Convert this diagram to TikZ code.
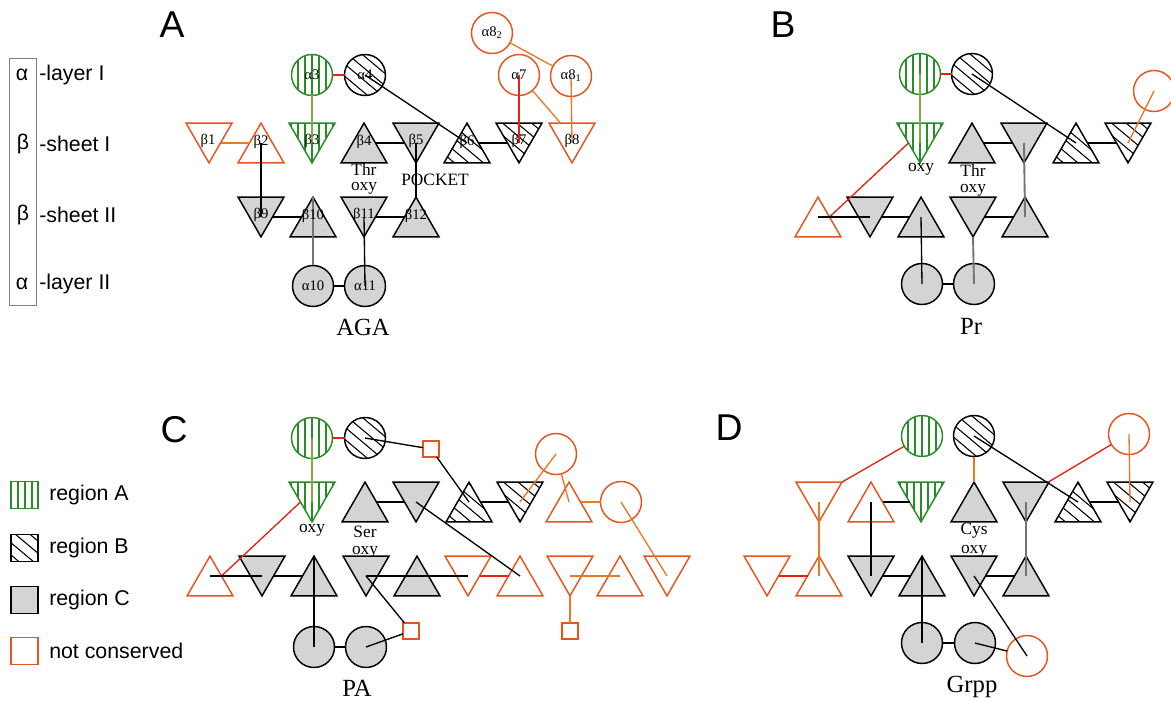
\documentclass[tikz,border=0pt]{standalone}
\usepackage{fontspec}
\setmainfont{Liberation Serif}
\newfontfamily\sansf{Liberation Sans}
\usetikzlibrary{shapes.geometric,calc}
\definecolor{grn}{RGB}{40,140,40}
\definecolor{grnl}{RGB}{125,175,60}
\definecolor{ncol}{RGB}{230,85,30}
\definecolor{redl}{RGB}{225,35,20}
\definecolor{orl}{RGB}{235,120,35}
\definecolor{grayc}{RGB}{212,212,212}
\tikzset{
 base/.style={inner sep=0pt,outer sep=0pt,line width=1.1pt},
 tri/.style={base,regular polygon,regular polygon sides=3,minimum size=39.8pt},
 cir/.style={base,circle,minimum size=30.75pt},
 sqr/.style={base,rectangle,minimum size=12pt},
 regA/.style={draw=grn,fill=white,path picture={\foreach \k in {-21,-15.75,...,21}{\draw[grn,line width=1.5pt] ([xshift=\k pt]path picture bounding box.north) -- ([xshift=\k pt]path picture bounding box.south);}}},
 regB/.style={draw=black,fill=white,path picture={\foreach \k in {-24.5,-17.5,...,24.5}{\draw[black,line width=0.8pt] ($(path picture bounding box.center)+(\k*0.643pt,\k*0.766pt)+(140:45pt)$) -- ++(-40:90pt);}}},
 regC/.style={draw=black,fill=grayc},
 NC/.style={draw=ncol,fill=white},
 lnB/.style={line width=1pt,black},
 lnR/.style={line width=1pt,redl},
 lnO/.style={line width=1pt,orl},
 lnG/.style={line width=1.2pt,grnl},
 lnGy/.style={line width=1.4pt,black!55},
 ilab/.style={font=\fontsize{11}{11}\selectfont,inner sep=0pt},
 slab/.style={font=\fontsize{13}{13}\selectfont,inner sep=0pt},
 tlab/.style={font=\fontsize{18.5}{18.5}\selectfont,inner sep=0pt},
 plab/.style={font={\sansf\fontsize{28}{28}\selectfont},inner sep=0pt},
 lg/.style={font={\sansf\fontsize{16}{16}\selectfont},inner sep=0pt},
}
\newcommand\triU[4]{\node[tri,#4] (#1) at (#2,#3+6.64) {};
 \coordinate (#1c) at (#2,#3); \coordinate (#1L) at (#2-11.5,#3); \coordinate (#1R) at (#2+11.5,#3);
 \coordinate (#1T) at (#2,#3-20); \coordinate (#1B) at (#2,#3+20);}
\newcommand\triD[4]{\node[tri,shape border rotate=180,#4] (#1) at (#2,#3-6.64) {};
 \coordinate (#1c) at (#2,#3); \coordinate (#1L) at (#2-11.5,#3); \coordinate (#1R) at (#2+11.5,#3);
 \coordinate (#1T) at (#2,#3-20); \coordinate (#1B) at (#2,#3+20);}
\begin{document}
\begin{tikzpicture}[x=0.75pt,y=-0.75pt]
\useasboundingbox (0,0) rectangle (1171,702);
\clip (0,0) rectangle (1171,702);
% ---------- legends ----------
\node[draw=black!50,line width=0.6pt,minimum width=20.25pt,minimum height=185.25pt,inner sep=0pt] (lbox) at (22.5,181.5) {};
\node[lg] (lg1) at (22,75) {α};
\node[lg] (lg2) at (23,144) {β};
\node[lg] (lg3) at (23,215) {β};
\node[lg] (lg4) at (22,284) {α};
\node[lg,anchor=west] (lt1) at (39,75) {-layer I};
\node[lg,anchor=west] (lt2) at (39,144) {-sheet I};
\node[lg,anchor=west] (lt3) at (39,215) {-sheet II};
\node[lg,anchor=west] (lt4) at (39,284) {-layer II};
\node[base,rectangle,minimum size=20.25pt,regA] (sA) at (24.5,495) {};
\node[base,rectangle,minimum size=20.25pt,regB,line width=0.8pt] (sB) at (24.5,548) {};
\node[base,rectangle,minimum size=20.25pt,regC,line width=0.8pt] (sC) at (24.5,600) {};
\node[base,rectangle,minimum size=20.25pt,NC,line width=0.8pt] (sD) at (24.5,651) {};
\node[lg,anchor=west] (tA) at (49,495) {region A};
\node[lg,anchor=west] (tB) at (49,548) {region B};
\node[lg,anchor=west] (tC) at (49,600) {region C};
\node[lg,anchor=west] (tD) at (49,651) {not conserved};
% ---------- panel A ----------
\node[plab] (PA) at (172,25) {A};
\node[cir,regA] (Aa3) at (312,75) {};
\node[cir,regB] (Aa4) at (365,75) {};
\node[cir,NC] (Aa82) at (492,33) {};
\node[cir,NC] (Aa7) at (519,75) {};
\node[cir,NC] (Aa81) at (571,76) {};
\node[cir,regC] (Aa10) at (313,286) {};
\node[cir,regC] (Aa11) at (365,286) {};
\triD{Ab1}{209}{143}{NC}
\triU{Ab2}{261}{143}{NC}
\triD{Ab3}{312}{143}{regA}
\triU{Ab4}{364}{143}{regC}
\triD{Ab5}{416}{143}{regC}
\triU{Ab6}{467}{143}{regB}
\triD{Ab7}{519}{143}{regB}
\triD{Ab8}{572}{143}{NC}
\triD{Ab9}{261}{217}{regC}
\triU{Ab10}{313}{217}{regC}
\triD{Ab11}{364}{217}{regC}
\triU{Ab12}{416}{217}{regC}
\draw[lnR] (Aa3) -- (Aa4);
\draw[lnG] (Aa3) -- (Ab3c);
\draw[lnB] (Aa4.center) -- (Ab6c);
\draw[lnO] (Aa82) -- (Aa81);
\draw[lnR] (Aa7.center) -- (Ab7c);
\draw[lnO] (Aa7) -- (Ab8);
\draw[lnO] (Aa81.center) -- (Ab8c);
\draw[lnO] (Ab1R) -- (Ab2L);
\draw[lnB] (Ab2c) -- (Ab9c);
\draw[lnB] (Ab4R) -- (Ab5L);
\draw[lnB] (Ab5c) -- (Ab12T);
\draw[lnB] (Ab6R) -- (Ab7L);
\draw[lnB] (Ab9R) -- (Ab10L);
\draw[lnGy] (Ab10T) -- (Aa10);
\draw[lnB] (Ab11c) -- (Aa11.center);
\draw[lnB] (Ab11R) -- (Ab12L);
\draw[lnB] (Aa10) -- (Aa11);
\node[ilab] (lAa3) at (312,75) {α3};
\node[ilab] (lAa4) at (365,75) {α4};
\node[ilab] (lAa82) at (492,33) {α8\textsubscript{2}};
\node[ilab] (lAa7) at (519,75) {α7};
\node[ilab] (lAa81) at (571,76) {α8\textsubscript{1}};
\node[ilab] (lAa10) at (313,286) {α10};
\node[ilab] (lAa11) at (365,286) {α11};
\node[ilab] (lAb1) at (208,141) {β1};
\node[ilab] (lAb2) at (261,142) {β2};
\node[ilab] (lAb3) at (312,141) {β3};
\node[ilab] (lAb4) at (364,142) {β4};
\node[ilab] (lAb5) at (416,141) {β5};
\node[ilab] (lAb6) at (467,142) {β6};
\node[ilab] (lAb7) at (519,141) {β7};
\node[ilab] (lAb8) at (572,141) {β8};
\node[ilab] (lAb9) at (261,215) {β9};
\node[ilab] (lAb10) at (313,216) {β10};
\node[ilab] (lAb11) at (364,215) {β11};
\node[ilab] (lAb12) at (416,216) {β12};
\node[slab] (Athr) at (364,169) {Thr};
\node[slab] (Aoxy) at (364,188) {oxy};
\node[slab] (Apk) at (435,180) {POCKET};
\node[tlab] (Aname) at (363,327) {AGA};
% ---------- panel B ----------
\node[plab] (PB) at (783,25) {B};
\node[cir,regA] (Bcg) at (920,74) {};
\node[cir,regB] (Bch) at (972,74) {};
\node[cir,NC] (Bco) at (1154,91) {};
\triD{Bt1}{920}{143}{regA}
\triU{Bt2}{972}{143}{regC}
\triD{Bt3}{1024}{143}{regC}
\triU{Bt4}{1076}{143}{regB}
\triD{Bt5}{1128}{143}{regB}
\node[slab] (Bthr) at (973,170) {Thr};
\node[slab] (Boxy2) at (973,190) {oxy};
\triU{Bu1}{818}{217}{NC}
\triD{Bu2}{870}{217}{regC}
\triU{Bu3}{921}{217}{regC}
\triD{Bu4}{973}{217}{regC}
\triU{Bu5}{1025}{217}{regC}
\node[cir,regC] (Bc1) at (922,284) {};
\node[cir,regC] (Bc2) at (974,284) {};
\draw[lnR] (Bcg) -- (Bch);
\draw[lnG] (Bcg.center) -- (Bt1c);
\draw[lnB] (Bch.center) -- (Bt4c);
\draw[lnB] (Bt2R) -- (Bt3L);
\draw[lnGy] (Bt3c) -- (Bu5c);
\draw[lnB] (Bt4R) -- (Bt5L);
\draw[lnO] (Bco.center) -- (Bt5c);
\draw[lnR] (Bt1L) -- (Bu1R);
\draw[lnB] (Bu1c) -- (Bu2c);
\draw[lnB] (Bu2R) -- (Bu3L);
\draw[lnB] (Bu3c) -- (Bc1.center);
\draw[lnGy] (Bu4B) -- (Bc2.center);
\draw[lnB] (Bu4R) -- (Bu5L);
\draw[lnB] (Bc1) -- (Bc2);
\node[slab] (Boxy1) at (921,169) {oxy};
\node[tlab] (Bname) at (971,326) {Pr};
% ---------- panel C ----------
\node[plab] (PC) at (174,430) {C};
\node[cir,regA] (Ccg) at (312,438) {};
\node[cir,regB] (Cch) at (365,438) {};
\node[sqr,NC] (Csq1) at (431,449) {};
\node[cir,NC] (Cco1) at (556,454) {};
\node[cir,NC] (Cco2) at (621,502) {};
\triD{Ct1}{312}{502}{regA}
\triU{Ct2}{365}{502}{regC}
\triD{Ct3}{416}{502}{regC}
\triU{Ct4}{469}{502}{regB}
\triD{Ct5}{520}{502}{regB}
\triU{Ct6}{569}{502}{NC}
\node[slab] (Cser) at (365,532) {Ser};
\node[slab] (Coxy2) at (365,552) {oxy};
\triU{Cu1}{210}{576}{NC}
\triD{Cu2}{262}{576}{regC}
\triU{Cu3}{314}{576}{regC}
\triD{Cu4}{366}{576}{regC}
\triU{Cu5}{417}{576}{regC}
\triD{Cu6}{468}{576}{NC}
\triU{Cu7}{520}{576}{NC}
\triD{Cu8}{570}{576}{NC}
\triU{Cu9}{620}{576}{NC}
\triD{Cu10}{667}{576}{NC}
\node[sqr,NC] (Csq2) at (411,631) {};
\node[sqr,NC] (Csq3) at (570,631) {};
\node[cir,regC] (Cc1) at (314,647) {};
\node[cir,regC] (Cc2) at (366,647) {};
\draw[lnR] (Ccg) -- (Cch);
\draw[lnG] (Ccg.center) -- (Ct1c);
\draw[lnB] (Cch.center) -- (Csq1);
\draw[lnB] (Csq1) -- (Ct4c);
\draw[lnB] (Ct2R) -- (Ct3L);
\draw[lnB] (Ct3c) -- (Cu7c);
\draw[lnB] (Ct4R) -- (Ct5L);
\draw[lnO] (Cco1.center) -- (Ct5c);
\draw[lnO] (Cco1) -- (Ct6c);
\draw[lnO] (Ct6R) -- (Cco2);
\draw[lnO] (Cco2.center) -- (Cu10c);
\draw[lnR] (Ct1L) -- (Cu1R);
\draw[lnB] (Cu1c) -- (Cu2c);
\draw[lnB] (Cu2R) -- (Cu3L);
\draw[lnB] (Cu3T) -- (Cc1.center);
\draw[lnB] (Cu4c) -- (Cu6c);
\draw[lnR] (Cu6R) -- (Cu7L);
\draw[lnB] (Cu4c) -- (Csq2);
\draw[lnB] (Csq2) -- (Cc2.center);
\draw[lnO] (Cu8c) -- (Cu9c);
\draw[lnO] (Cu8B) -- (Csq3);
\draw[lnB] (Cc1) -- (Cc2);
\node[slab] (Coxy1) at (312,530) {oxy};
\node[tlab] (Cname) at (357,688) {PA};
% ---------- panel D ----------
\node[plab] (PD) at (729,428) {D};
\node[cir,regA] (Dcg) at (922,436) {};
\node[cir,regB] (Dch) at (974,436) {};
\node[cir,NC] (Dco1) at (1129,434) {};
\triD{Dt1}{819}{502}{NC}
\triU{Dt2}{871}{502}{NC}
\triD{Dt3}{921}{502}{regA}
\triU{Dt4}{974}{502}{regC}
\triD{Dt5}{1026}{502}{regC}
\triU{Dt6}{1078}{502}{regB}
\triD{Dt7}{1130}{502}{regB}
\node[slab] (Dcys) at (974,531) {Cys};
\node[slab] (Doxy) at (974,551) {oxy};
\triD{Du1}{767}{576}{NC}
\triU{Du2}{819}{576}{NC}
\triD{Du3}{871}{576}{regC}
\triU{Du4}{922}{576}{regC}
\triD{Du5}{974}{576}{regC}
\triU{Du6}{1026}{576}{regC}
\node[cir,regC] (Dc1) at (922,643) {};
\node[cir,regC] (Dc2) at (975,643) {};
\node[cir,NC] (Dco2) at (1027,656) {};
\draw[lnR] (Dcg) -- (Dt1);
\draw[lnO] (Dt1c) -- (Du2c);
\draw[lnR] (Du1R) -- (Du2L);
\draw[lnB] (Dt2R) -- (Dt3L);
\draw[lnB] (Dt2c) -- (Du3c);
\draw[lnB] (Du3R) -- (Du4L);
\draw[lnB] (Du4T) -- (Dc1.center);
\draw[lnB] (Dc1) -- (Dc2);
\draw[lnB] (Dc2.center) -- (Dco2);
\draw[lnB] (Du5c) -- (Dco2.center);
\draw[lnB] (Du5R) -- (Du6L);
\draw[lnGy] (Dt5c) -- (Du6c);
\draw[lnO] (Dch) -- (Dt4T);
\draw[lnB] (Dch.center) -- (Dt6c);
\draw[lnR] (Dco1) -- (Dt5);
\draw[lnO] (Dco1.center) -- (Dt7c);
\draw[lnB] (Dt6R) -- (Dt7L);
\node[tlab] (Dname) at (972,687) {Grpp};
\end{tikzpicture}
\end{document}
